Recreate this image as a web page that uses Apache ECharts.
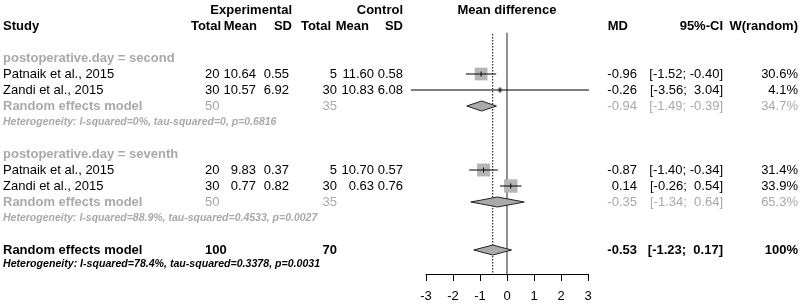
<!DOCTYPE html>
<html>
<head>
<meta charset="utf-8">
<script src="https://cdn.jsdelivr.net/npm/echarts@6/dist/echarts.min.js"></script>
<style>
html,body{margin:0;padding:0;background:#fff}
#forest{width:800px;height:305px}
</style>
</head>
<body>
<div id="forest"></div>
<script>
// studies
var groupLabels = ['postoperative.day = second', 'postoperative.day = seventh'];
var studyGroup = [0, 0, 1, 1];
var studyNames = ['Patnaik et al., 2015', 'Zandi et al., 2015', 'Patnaik et al., 2015', 'Zandi et al., 2015'];
var expTotal = [20, 30, 20, 30];
var expMean = [10.64, 10.57, 9.83, 0.77];
var expSD = [0.55, 6.92, 0.37, 0.82];
var ctlTotal = [5, 30, 5, 30];
var ctlMean = [11.60, 10.83, 10.70, 0.63];
var ctlSD = [0.58, 6.08, 0.57, 0.76];
var md = [-0.96, -0.26, -0.87, 0.14];
var mdLower = [-1.52, -3.56, -1.40, -0.26];
var mdUpper = [-0.40, 3.04, -0.34, 0.54];
var weight = [30.6, 4.1, 31.4, 33.9];

// subgroup pooled
var subExpTotal = [50, 50];
var subCtlTotal = [35, 35];
var subMD = [-0.94, -0.35];
var subLower = [-1.49, -1.34];
var subUpper = [-0.39, 0.64];
var subWeight = [34.7, 65.3];
var subHet = [
	'Heterogeneity: I-squared=0%, tau-squared=0, p=0.6816',
	'Heterogeneity: I-squared=88.9%, tau-squared=0.4533, p=0.0027'
];

// overall
var allExpTotal = 100;
var allCtlTotal = 70;
var allMD = -0.53;
var allLower = -1.23;
var allUpper = 0.17;
var allHet = 'Heterogeneity: I-squared=78.4%, tau-squared=0.3378, p=0.0031';

var xTicks = [-3, -2, -1, 0, 1, 2, 3];

var FONT = '"Liberation Sans", Arial, sans-serif';
var GRAY = '#a9a9a9';
var COL = {study: 3, expN: 205, expMean: 256, expSD: 289, ctlN: 337, ctlMean: 374, ctlSD: 403, md: 637, ci: 723, w: 798};

function f2(v){ return v.toFixed(2); }
function ci(lo, hi){
	return '[' + f2(lo) + '; ' + (hi >= 0 ? ' ' : '') + f2(hi) + ']';
}
function cell(text, x, align, color, weight, size, italic){
	return {text: String(text), x: x, align: align || 'right', color: color || '#000',
		font: (italic ? 'italic ' : '') + (weight || 'normal') + ' ' + (size || 13) + 'px ' + FONT};
}

// build table rows and forest marks
var rows = [];
var studyPts = [];
var diamonds = [];
rows.push({row: 0, cells: [
	cell('Experimental', 292, 'right', '#000', 'bold'),
	cell('Control', 403, 'right', '#000', 'bold'),
	cell('Mean difference', 507, 'center', '#000', 'bold')
]});
rows.push({row: 1, cells: [
	cell('Study', COL.study, 'left', '#000', 'bold'),
	cell('Total', 221, 'right', '#000', 'bold'),
	cell('Mean', 257, 'right', '#000', 'bold'),
	cell('SD', 292, 'right', '#000', 'bold'),
	cell('Total', 331, 'right', '#000', 'bold'),
	cell('Mean', 369, 'right', '#000', 'bold'),
	cell('SD', 403, 'right', '#000', 'bold'),
	cell('MD', 628, 'right', '#000', 'bold'),
	cell('95%-CI', COL.ci, 'right', '#000', 'bold'),
	cell('W(random)', COL.w, 'right', '#000', 'bold')
]});

var r = 3;
groupLabels.forEach(function(lab, g){
	rows.push({row: r, cells: [cell(lab, COL.study, 'left', GRAY, 'bold')]});
	r++;
	for (var i = 0; i < studyNames.length; i++) {
		if (studyGroup[i] !== g) continue;
		rows.push({row: r, cells: [
			cell(studyNames[i], COL.study, 'left'),
			cell(expTotal[i], COL.expN, 'left'),
			cell(f2(expMean[i]), COL.expMean),
			cell(f2(expSD[i]), COL.expSD),
			cell(ctlTotal[i], COL.ctlN),
			cell(f2(ctlMean[i]), COL.ctlMean),
			cell(f2(ctlSD[i]), COL.ctlSD),
			cell(f2(md[i]), COL.md),
			cell(ci(mdLower[i], mdUpper[i]), COL.ci),
			cell(weight[i].toFixed(1) + '%', COL.w)
		]});
		studyPts.push([md[i], r, mdLower[i], mdUpper[i], weight[i]]);
		r++;
	}
	rows.push({row: r, cells: [
		cell('Random effects model', COL.study, 'left', GRAY, 'bold'),
		cell(subExpTotal[g], COL.expN, 'left', GRAY),
		cell(subCtlTotal[g], COL.ctlN, 'right', GRAY),
		cell(f2(subMD[g]), COL.md, 'right', GRAY),
		cell(ci(subLower[g], subUpper[g]), COL.ci, 'right', GRAY),
		cell(subWeight[g].toFixed(1) + '%', COL.w, 'right', GRAY)
	]});
	diamonds.push([subMD[g], r, subLower[g], subUpper[g]]);
	r++;
	rows.push({row: r, cells: [cell(subHet[g], COL.study, 'left', GRAY, 'bold', 10.5, true)]});
	r += 2;
});
rows.push({row: r, cells: [
	cell('Random effects model', COL.study, 'left', '#000', 'bold'),
	cell(allExpTotal, COL.expN, 'left', '#000', 'bold'),
	cell(allCtlTotal, COL.ctlN, 'right', '#000', 'bold'),
	cell(f2(allMD), COL.md, 'right', '#000', 'bold'),
	cell(ci(allLower, allUpper), COL.ci, 'right', '#000', 'bold'),
	cell('100%', COL.w, 'right', '#000', 'bold')
]});
diamonds.push([allMD, r, allLower, allUpper]);
rows.push({row: r + 0.85, cells: [cell(allHet, COL.study, 'left', '#000', 'bold', 10.6, true)]});
var axisRow = r + 1.5;

var myChart = echarts.init(document.getElementById('forest'));
var option = {
	animation: false,
	grid: {left: 426, right: 212, top: 10, bottom: 31},
	xAxis: {
		type: 'value', position: 'bottom', min: -3, max: 3, interval: 1,
		axisLine: {show: true, onZero: false, lineStyle: {color: '#000', width: 1}},
		axisTick: {show: true, length: 7, lineStyle: {color: '#000'}},
		axisLabel: {color: '#000', fontSize: 13, fontFamily: FONT, margin: 16,
			formatter: function(v){ return xTicks.indexOf(v) > -1 ? String(v) : ''; }},
		splitLine: {show: false}
	},
	yAxis: {type: 'value', inverse: true, min: 0, max: axisRow, show: false},
	series: [
		{
			type: 'custom', name: 'ref', clip: false, silent: true,
			data: [[0, 1.42, axisRow, 0], [allMD, 1.5, axisRow, 1]],
			renderItem: function(params, api){
				var a = api.coord([api.value(0), api.value(1)]);
				var b = api.coord([api.value(0), api.value(2)]);
				var dotted = api.value(3) === 1;
				return {type: 'line', shape: {x1: a[0], y1: a[1], x2: b[0], y2: b[1]},
					style: {stroke: dotted ? '#000' : '#555', lineWidth: dotted ? 1 : 1.3, lineDash: dotted ? [1.5, 1.5] : null}};
			}
		},
		{
			type: 'custom', name: 'studies', clip: false, silent: true, z: 3,
			data: studyPts,
			renderItem: function(params, api){
				var c = api.coord([api.value(0), api.value(1)]);
				var lo = api.coord([api.value(2), api.value(1)]);
				var hi = api.coord([api.value(3), api.value(1)]);
				var s = 2.3 * Math.sqrt(api.value(4));
				return {type: 'group', children: [
					{type: 'rect', shape: {x: c[0] - s / 2, y: c[1] - s / 2, width: s, height: s}, style: {fill: '#b5b5b5'}},
					{type: 'line', shape: {x1: lo[0], y1: c[1], x2: hi[0], y2: c[1]}, style: {stroke: '#000', lineWidth: 1}},
					{type: 'line', shape: {x1: c[0], y1: c[1] - 2.5, x2: c[0], y2: c[1] + 2.5}, style: {stroke: '#000', lineWidth: 1}}
				]};
			}
		},
		{
			type: 'custom', name: 'pooled', clip: false, silent: true, z: 4,
			data: diamonds,
			renderItem: function(params, api){
				var c = api.coord([api.value(0), api.value(1)]);
				var lo = api.coord([api.value(2), api.value(1)]);
				var hi = api.coord([api.value(3), api.value(1)]);
				var h = 5;
				return {type: 'polygon',
					shape: {points: [[lo[0], c[1]], [c[0], c[1] - h], [hi[0], c[1]], [c[0], c[1] + h]]},
					style: {fill: '#aaaaaa', stroke: '#222', lineWidth: 1}};
			}
		},
		{
			type: 'custom', name: 'table', clip: false, silent: true,
			data: rows.map(function(rw){ return [0, rw.row]; }),
			renderItem: function(params, api){
				var y = api.coord([0, api.value(1)])[1];
				var cells = rows[params.dataIndex].cells;
				return {type: 'group', children: cells.map(function(c){
					return {type: 'text', x: c.x, y: y, style: {
						text: c.text, font: c.font, fill: c.color,
						align: c.align, verticalAlign: 'middle',
						textAlign: c.align, textVerticalAlign: 'middle'
					}};
				})};
			}
		}
	]
};
myChart.setOption(option);
</script>
</body>
</html>
